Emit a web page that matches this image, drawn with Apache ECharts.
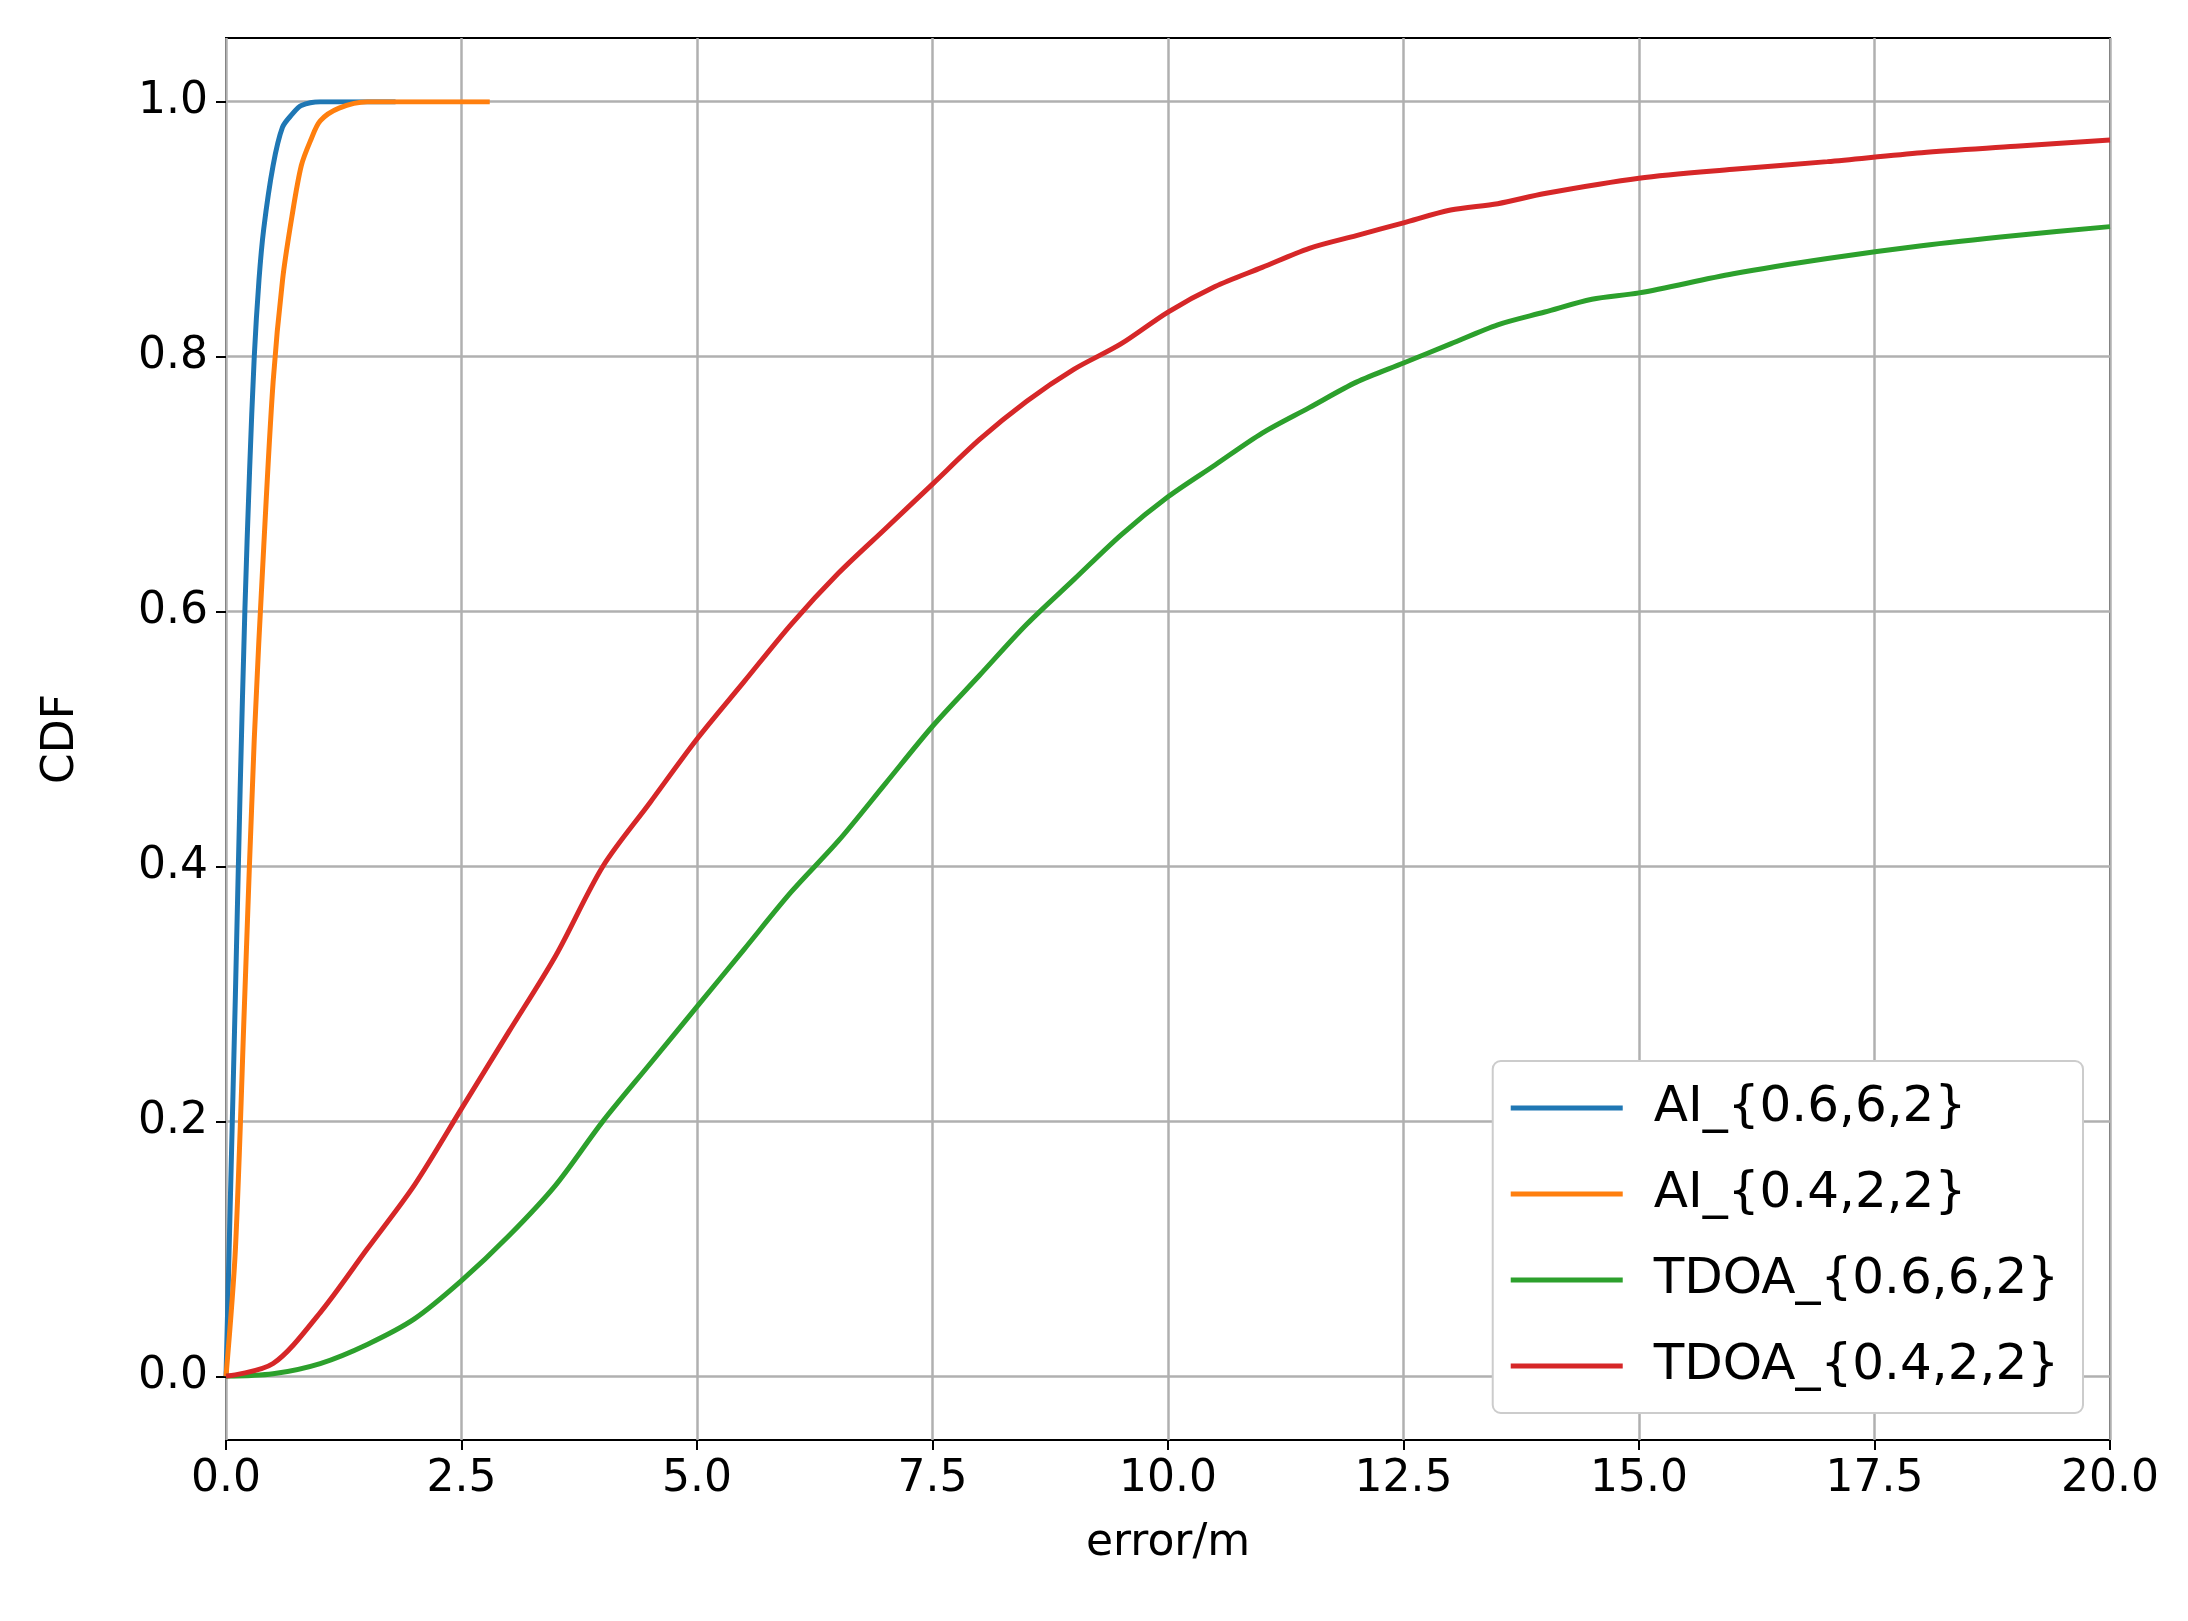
<!DOCTYPE html>
<html><head><meta charset="utf-8">
<script src="https://cdn.jsdelivr.net/npm/echarts@6/dist/echarts.min.js"></script>
<style>html,body{margin:0;background:#fff}#main{width:2188px;height:1621px}</style>
</head><body><div id="main"></div>
<script>
var names = ['AI_{0.6,6,2}', 'AI_{0.4,2,2}', 'TDOA_{0.6,6,2}', 'TDOA_{0.4,2,2}'];
var colors = ['#1f77b4', '#ff7f0e', '#2ca02c', '#d62728'];
var aiA = [[0,0],[0.05,0.15],[0.1,0.3],[0.15,0.46],[0.2,0.6],[0.25,0.71],[0.3,0.8],[0.35,0.86],[0.4,0.9],[0.5,0.95],[0.6,0.98],[0.7,0.99],[0.8,0.997],[1.0,1],[1.8,1]];
var aiB = [[0,0],[0.1,0.1],[0.2,0.3],[0.3,0.5],[0.4,0.65],[0.5,0.78],[0.6,0.86],[0.7,0.91],[0.8,0.95],[0.9,0.97],[1.0,0.985],[1.2,0.995],[1.5,1],[2.8,1]];
var tdoaA = [[0,0],[0.5,0.002],[1,0.01],[1.5,0.025],[2,0.045],[2.5,0.075],[3,0.11],[3.5,0.15],[4,0.2],[4.5,0.245],[5,0.29],[5.5,0.335],[6,0.38],[6.5,0.42],[7,0.465],[7.5,0.51],[8,0.55],[8.5,0.59],[9,0.625],[9.5,0.66],[10,0.69],[10.5,0.715],[11,0.74],[11.5,0.76],[12,0.78],[12.5,0.795],[13,0.81],[13.5,0.825],[14,0.835],[14.5,0.845],[15,0.85],[16,0.865],[17,0.877],[18,0.887],[19,0.895],[20,0.902]];
var tdoaB = [[0,0],[0.5,0.01],[1,0.05],[1.5,0.1],[2,0.15],[2.5,0.21],[3,0.27],[3.5,0.33],[4,0.4],[4.5,0.45],[5,0.5],[5.5,0.545],[6,0.59],[6.5,0.63],[7,0.665],[7.5,0.7],[8,0.735],[8.5,0.765],[9,0.79],[9.5,0.81],[10,0.835],[10.5,0.855],[11,0.87],[11.5,0.885],[12,0.895],[12.5,0.905],[13,0.915],[13.5,0.92],[14,0.928],[15,0.94],[16,0.947],[17,0.953],[18,0.96],[19,0.965],[20,0.97]];
var seriesData = [aiA, aiB, tdoaA, tdoaB];

var font = 'DejaVu Sans';
var chart = echarts.init(document.getElementById('main'));
var innerPad = 0.05 / 1.1 * 1402;
chart.setOption({
  animation: false,
  textStyle: { fontFamily: font },
  grid: [
    { left: 226, right: 78, top: 38, bottom: 181, show: true, borderColor: '#000', borderWidth: 2 },
    { left: 226, right: 78, top: 38 + innerPad, bottom: 181 + innerPad }
  ],
  xAxis: [
    { gridIndex: 0, type: 'value', min: 0, max: 20, interval: 2.5,
      name: 'error/m', nameLocation: 'middle', nameGap: 82,
      nameTextStyle: { fontSize: 44, color: '#000', fontFamily: font },
      axisLine: { show: false, onZero: false },
      axisTick: { show: true, length: 10, inside: false, lineStyle: { color: '#000', width: 2 } },
      axisLabel: { fontSize: 44, color: '#000', margin: 18, formatter: function (v) { return v.toFixed(1); } },
      splitLine: { show: true, lineStyle: { color: '#b0b0b0', width: 2.5 } } },
    { gridIndex: 1, type: 'value', min: 0, max: 20, show: false }
  ],
  yAxis: [
    { gridIndex: 0, type: 'value', min: -0.05, max: 1.05, show: false, splitLine: { show: false } },
    { gridIndex: 1, type: 'value', min: 0, max: 1, interval: 0.2,
      name: 'CDF', nameLocation: 'middle', nameGap: 142, nameRotate: 90,
      nameTextStyle: { fontSize: 44, color: '#000', fontFamily: font },
      axisLine: { show: false, onZero: false },
      axisTick: { show: true, length: 10, lineStyle: { color: '#000', width: 2 } },
      axisLabel: { fontSize: 44, color: '#000', margin: 18, formatter: function (v) { return v.toFixed(1); } },
      splitLine: { show: true, lineStyle: { color: '#b0b0b0', width: 2.5 } } }
  ],
  legend: {
    orient: 'vertical', right: 105, bottom: 208,
    data: names, itemWidth: 112, itemHeight: 5, itemGap: 36,
    icon: 'rect', backgroundColor: '#fff', borderColor: '#ccc', borderWidth: 2,
    borderRadius: 8, padding: [22, 24, 22, 18],
    textStyle: { fontSize: 50, color: '#000', fontFamily: font, padding: [0, 0, 0, 26] }
  },
  series: names.map(function (n, i) {
    return { name: n, type: 'line', xAxisIndex: 1, yAxisIndex: 1, data: seriesData[i],
      showSymbol: false, smooth: 0.3, color: colors[i], lineStyle: { width: 5, color: colors[i] }, z: 3 };
  })
});
</script></body></html>
